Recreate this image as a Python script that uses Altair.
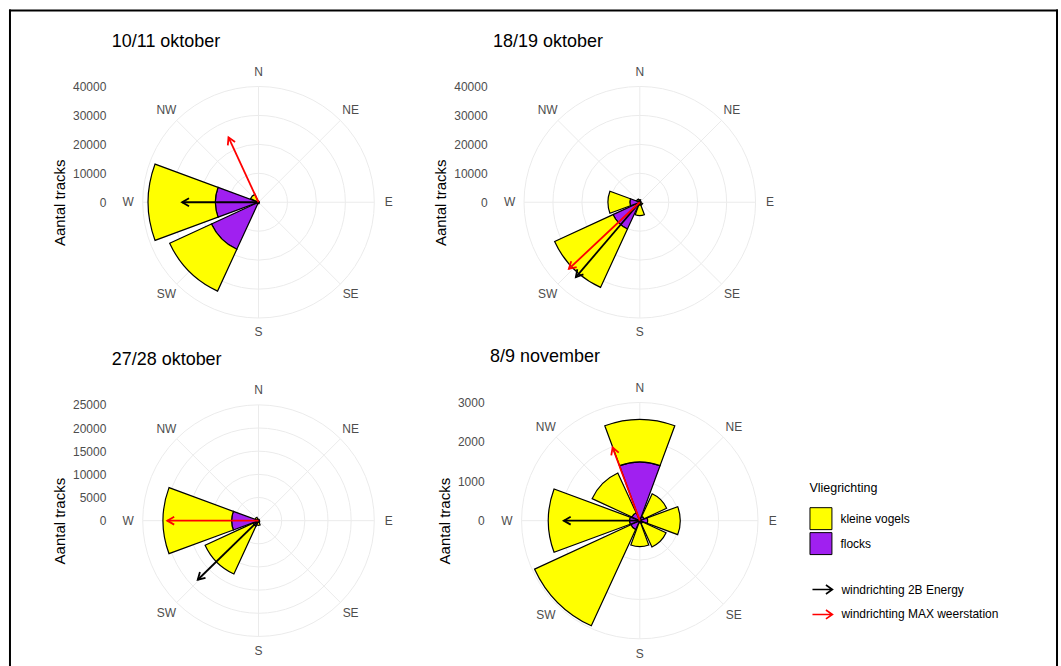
import math

import altair as alt
import pandas as pd

# compass sectors used for the flight directions
directions = ["N", "NE", "E", "SE", "S", "SW", "W", "NW"]
bearings = [0, 45, 90, 135, 180, 225, 270, 315]

nights = ["10/11 oktober", "18/19 oktober", "27/28 oktober", "8/9 november"]

# tracks per flight direction, in the order of `directions`
kleine_vogels_10_11_okt = [200, 50, 50, 100, 300, 15900, 23200, 2400]
flocks_10_11_okt = [100, 50, 50, 50, 200, 17900, 14900, 600]
kleine_vogels_18_19_okt = [600, 300, 300, 800, 3600, 22200, 7550, 800]
flocks_18_19_okt = [300, 100, 100, 300, 1000, 10200, 3450, 400]
kleine_vogels_27_28_okt = [200, 100, 100, 200, 600, 11400, 14800, 500]
flocks_27_28_okt = [100, 50, 50, 100, 400, 1300, 5800, 300]
kleine_vogels_8_9_nov = [1077, 630, 826, 655, 600, 2690, 2060, 1113]
flocks_8_9_nov = [1490, 120, 200, 80, 60, 250, 260, 220]

# wind direction (degrees) and arrow length (in track units of each night)
wind_2b_energy_dir = [270, 220.5, 225.8, 270]
wind_2b_energy_len = [26400, 34000, 18300, 1930]
wind_max_dir = [335.2, 226.8, 270, 339.6]
wind_max_len = [24700, 33600, 19700, 1980]

# radial axis: upper limit and break step per night
r_limits = [40000, 40000, 25000, 3000]
r_steps = [10000, 10000, 5000, 1000]

kleine_vogels = [kleine_vogels_10_11_okt, kleine_vogels_18_19_okt,
                 kleine_vogels_27_28_okt, kleine_vogels_8_9_nov]
flocks = [flocks_10_11_okt, flocks_18_19_okt, flocks_27_28_okt, flocks_8_9_nov]
wind_sources = ["windrichting 2B Energy", "windrichting MAX weerstation"]

# pixel radius of the outer ring per panel (the last panel has narrower
# tick labels and therefore a slightly larger polar area)
ring_px = [116, 116, 116, 118.4]
VIEW = 290  # every panel view is VIEW x VIEW pixels

FONT = "Liberation Sans"
GRID = "#EBEBEB"
TEXT = "#4D4D4D"
ARROW_HEAD = "M-0.5,0.866L0,0L0.5,0.866"
LEGEND_ARROW = "M-1,0L1,0M0.35,-0.45L1,0L0.35,0.45"

theta_scale = alt.Scale(domain=[0, 360], range=[0, 2 * math.pi])
angle_scale = alt.Scale(domain=[0, 360], range=[0, 360])
fill_scale = alt.Scale(domain=["kleine vogels", "flocks"], range=["#FFFF00", "#A020F0"])
wind_scale = alt.Scale(domain=wind_sources, range=["#000000", "#FF0000"])

fill_legend = alt.Legend(
    title="Vliegrichting", orient="none", legendX=697, legendY=425,
    symbolType="square", symbolSize=484, symbolStrokeColor="black",
    symbolStrokeWidth=1, labelFontSize=12, labelColor="black", labelOffset=8,
    titleFontSize=12.5, titleFontWeight="normal", titleColor="black",
    titlePadding=13, rowPadding=-6, padding=0,
)
wind_legend = alt.Legend(
    title=None, orient="none", legendX=699, legendY=522,
    symbolType=LEGEND_ARROW, symbolSize=400, symbolStrokeWidth=1.6,
    labelFontSize=12, labelColor="black", labelOffset=8, rowPadding=6, padding=0,
)


def rose(i):
    half_view = VIEW / 2
    rmax = r_limits[i]
    px_per_unit = ring_px[i] / rmax
    polar_half = ring_px[i] / 0.8        # half-size of the polar area
    ext = half_view / px_per_unit        # data units from centre to view edge
    breaks = list(range(0, rmax + 1, r_steps[i]))
    half = 0.9 * 45 / 2                  # bars fill 90 % of a 45 degree sector
    shift = polar_half - half_view       # how far the polar area pokes out

    rs = alt.Scale(type="linear", domain=[0, ext], range=[0, half_view])
    xs = alt.Scale(domain=[-ext, ext], nice=False, zero=False)
    ys = alt.Scale(domain=[-ext, ext], nice=False, zero=False)

    kv, fl = kleine_vogels[i], flocks[i]
    bars = pd.DataFrame({
        "richting": directions * 2,
        "soort": ["flocks"] * 8 + ["kleine vogels"] * 8,
        "t0": [b - half for b in bearings] * 2,
        "t1": [b + half for b in bearings] * 2,
        "r0": [0] * 8 + fl,
        "r1": fl + [f + k for f, k in zip(fl, kv)],
    })
    rings = pd.DataFrame({"r": breaks[1:]})
    spokes = pd.DataFrame({"b": bearings, "r": [rmax] * 8, "o": [0] * 8})
    labels = pd.DataFrame({
        "richting": directions, "b": bearings,
        "r": [0.9 * polar_half / px_per_unit] * 8,
    })
    wind = pd.DataFrame({
        "bron": wind_sources,
        "b": [wind_2b_energy_dir[i], wind_max_dir[i]],
        "L": [wind_2b_energy_len[i], wind_max_len[i]],
        "o": [0, 0],
    })
    heading = pd.DataFrame({"nacht": [nights[i]]})

    y_axis = alt.Axis(
        values=breaks, format="d", title="Aantal tracks", grid=False, domain=False,
        ticks=False, tickSize=0, labelPadding=8 + shift, labelFontSize=12,
        labelColor=TEXT, titleFontSize=15, titleFontWeight="normal",
        titleColor="black", titlePadding=5,
    )
    x_none = dict(scale=xs, axis=None)

    ring_layer = alt.Chart(rings).mark_arc(
        theta=0, theta2=2 * math.pi, fill="transparent", stroke=GRID, strokeWidth=1
    ).encode(radius=alt.Radius("r:Q", scale=rs, stack=False))

    spoke_layer = alt.Chart(spokes).transform_calculate(
        xe="datum.r * sin(datum.b * PI / 180)", ye="datum.r * cos(datum.b * PI / 180)"
    ).mark_rule(color=GRID, strokeWidth=1).encode(
        x=alt.X("o:Q", **x_none),
        y=alt.Y("o:Q", scale=ys, axis=y_axis),
        x2="xe:Q",
        y2="ye:Q",
    )

    bar_layer = alt.Chart(bars).mark_arc(stroke="black", strokeWidth=1.2).encode(
        theta=alt.Theta("t0:Q", scale=theta_scale, stack=False),
        theta2="t1:Q",
        radius=alt.Radius("r1:Q", scale=rs, stack=False),
        radius2="r0:Q",
        fill=alt.Fill("soort:N", scale=fill_scale, legend=fill_legend),
    )

    wind_base = alt.Chart(wind).transform_calculate(
        xe="datum.L * sin(datum.b * PI / 180)", ye="datum.L * cos(datum.b * PI / 180)"
    )
    shaft_layer = wind_base.mark_rule(strokeWidth=1.8).encode(
        x=alt.X("o:Q", **x_none),
        y=alt.Y("o:Q", scale=ys, axis=y_axis),
        x2="xe:Q",
        y2="ye:Q",
        stroke=alt.Stroke("bron:N", scale=wind_scale, legend=wind_legend),
    )
    head_layer = wind_base.mark_point(
        shape=ARROW_HEAD, size=256, filled=False, strokeWidth=1.8, opacity=1
    ).encode(
        x=alt.X("xe:Q", **x_none),
        y=alt.Y("ye:Q", scale=ys, axis=y_axis),
        angle=alt.Angle("b:Q", scale=angle_scale),
        stroke=alt.Stroke("bron:N", scale=wind_scale, legend=None),
    )

    label_layer = alt.Chart(labels).mark_text(fontSize=12, color=TEXT).encode(
        theta=alt.Theta("b:Q", scale=theta_scale, stack=False),
        radius=alt.Radius("r:Q", scale=rs, stack=False),
        text="richting:N",
    )

    title_layer = alt.Chart(heading).mark_text(
        align="left", baseline="alphabetic", fontSize=18, color="black"
    ).encode(
        text="nacht:N",
        x=alt.value(-shift - 2),
        y=alt.value(-shift - 11),
    )

    layers = [ring_layer, spoke_layer, bar_layer, shaft_layer, head_layer,
              label_layer, title_layer]

    if i == 0:
        # page frame, placed relative to the first panel
        edge = pd.DataFrame({"edge": [0]})
        frame = alt.Chart(edge).mark_rule(color="black", strokeWidth=2, strokeCap="square")
        layers += [
            frame.encode(x=alt.value(-104), x2=alt.value(945), y=alt.value(-47)),
            frame.encode(x=alt.value(-104), y=alt.value(-47), y2=alt.value(609)),
            frame.encode(x=alt.value(945), y=alt.value(-47), y2=alt.value(609)),
        ]

    return alt.layer(*layers).properties(width=VIEW, height=VIEW)


chart = (
    alt.concat(
        *[rose(i) for i in range(4)],
        columns=2,
        spacing={"row": 29, "column": 92},
        bounds="flush",
    )
    .resolve_scale(radius="independent")
    .properties(padding={"left": 8, "top": 8, "right": 2, "bottom": 0})
    .configure(font=FONT)
    .configure_view(strokeWidth=0)
)

chart.save("out.html", embed_options={"renderer": "svg", "actions": False})
